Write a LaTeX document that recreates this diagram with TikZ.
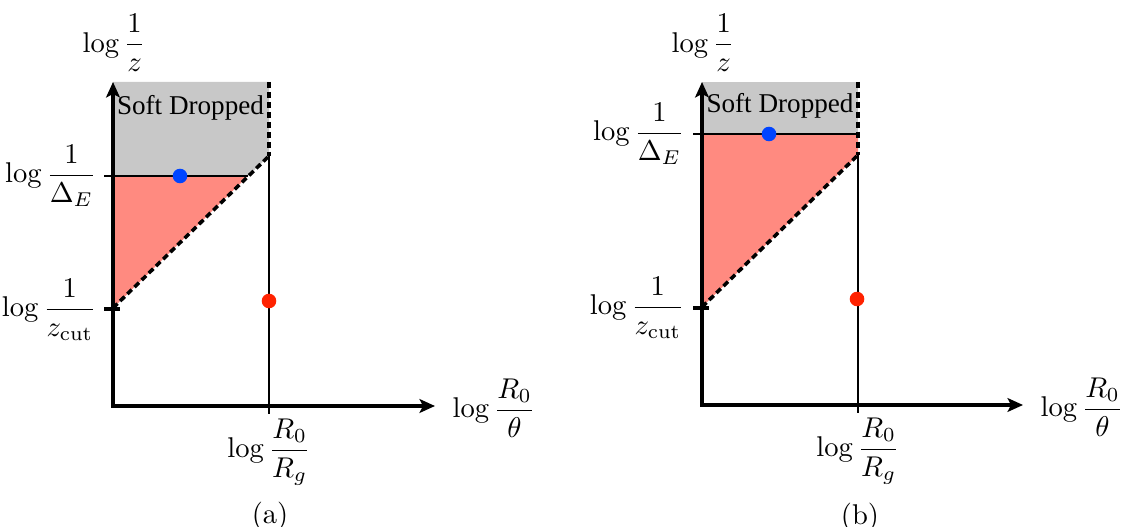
\documentclass[tikz,border=0pt]{standalone}
\usepackage{amsmath}
\usepackage{fontspec}
\newfontfamily\tnr{Liberation Serif}
\usetikzlibrary{arrows.meta}
\definecolor{sdgray}{RGB}{200,200,200}
\definecolor{salmon}{RGB}{255,138,128}
\definecolor{dotblue}{RGB}{0,68,255}
\definecolor{dotred}{RGB}{255,34,0}
\tikzset{
  axisline/.style={line width=1.25pt,-{Stealth[length=5.4pt,width=4.8pt,inset=1.2pt]}},
  thinline/.style={line width=0.95pt},
  dashline/.style={line width=1.25pt,dash pattern=on 2.2pt off 1.3pt},
  dot/.style={circle,inner sep=0pt,minimum size=5.1pt},
  lab/.style={inner sep=0pt,font=\fontsize{10}{12}\selectfont},
  sd/.style={inner sep=0pt,font=\tnr\fontsize{9.5}{11}\selectfont,anchor=base},
}
\begin{document}
\begin{tikzpicture}[x=0.35pt,y=-0.35pt]
\useasboundingbox (0,0) rectangle (1126,527);
% ---------- panel (a) ----------
\coordinate (aO) at (113,406);
\coordinate (aYt) at (113,82);
\coordinate (aXt) at (435,406);
\coordinate (aTop) at (269,82);
\coordinate (aK) at (269,156);
\coordinate (aD) at (248,176);
\coordinate (aE) at (113,176);
\coordinate (aEt) at (104,176);
\coordinate (aZ) at (113,308);
\coordinate (aZt) at (104,309);
\coordinate (aZr) at (120,309);
\coordinate (aB) at (269,414);
\fill[sdgray] (aYt) -- (aTop) -- (aK) -- (aD) -- (aE) -- cycle;
\fill[salmon] (aE) -- (aD) -- (aZ) -- cycle;
\draw[thinline] (aB) -- (aK);
\draw[thinline] (aEt) -- (aD);
\draw[thinline,line width=1.1pt] (aZt) -- (aZr);
\draw[dashline] (aTop) -- (aK);
\draw[dashline] (aZ) -- (aK);
\draw[axisline] (aO) -- (aYt);
\draw[axisline] ([xshift=-0.6pt]aO) -- (aXt);
\node[dot,fill=dotblue] (aBlue) at (180,176) {};
\node[dot,fill=dotred] (aRed) at (269,301) {};
\node[sd] (aSD) at (190.5,115) {Soft Dropped};
\node[lab] (aLz) at (114,43) {$\log\dfrac{1}{z}$};
\node[lab,anchor=east] (aLE) at (97,176) {$\log\dfrac{1}{\Delta_E}$};
\node[lab,anchor=east] (aLc) at (97,310) {$\log\dfrac{1}{z_{\mathrm{cut}}}$};
\node[lab] (aLR) at (269,452) {$\log\dfrac{R_0}{R_g}$};
\node[lab,anchor=west] (aLt) at (452,408) {$\log\dfrac{R_0}{\theta}$};
\node[lab] (aCap) at (270,516) {(a)};
% ---------- panel (b) ----------
\coordinate (bO) at (702,405);
\coordinate (bYt) at (702,82);
\coordinate (bXt) at (1023,405);
\coordinate (bTop) at (858,82);
\coordinate (bK) at (858,155);
\coordinate (bD) at (858,134);
\coordinate (bE) at (702,134);
\coordinate (bEt) at (693,134);
\coordinate (bZ) at (702,307);
\coordinate (bZt) at (693,308);
\coordinate (bZr) at (709,308);
\coordinate (bB) at (858,413);
\fill[sdgray] (bYt) -- (bTop) -- (bD) -- (bE) -- cycle;
\fill[salmon] (bE) -- (bD) -- (bK) -- (bZ) -- cycle;
\draw[thinline] (bB) -- (bK);
\draw[thinline] (bEt) -- (bD);
\draw[thinline,line width=1.1pt] (bZt) -- (bZr);
\draw[dashline] (bTop) -- (bK);
\draw[dashline] (bZ) -- (bK);
\draw[axisline] (bO) -- (bYt);
\draw[axisline] ([xshift=-0.6pt]bO) -- (bXt);
\node[dot,fill=dotblue] (bBlue) at (769,134) {};
\node[dot,fill=dotred] (bRed) at (857,299) {};
\node[sd] (bSD) at (780,113) {Soft Dropped};
\node[lab] (bLz) at (703,43) {$\log\dfrac{1}{z}$};
\node[lab,anchor=east] (bLE) at (685,134) {$\log\dfrac{1}{\Delta_E}$};
\node[lab,anchor=east] (bLc) at (685,308) {$\log\dfrac{1}{z_{\mathrm{cut}}}$};
\node[lab] (bLR) at (858,451) {$\log\dfrac{R_0}{R_g}$};
\node[lab,anchor=west] (bLt) at (1040,407) {$\log\dfrac{R_0}{\theta}$};
\node[lab] (bCap) at (860,517) {(b)};
\end{tikzpicture}
\end{document}
